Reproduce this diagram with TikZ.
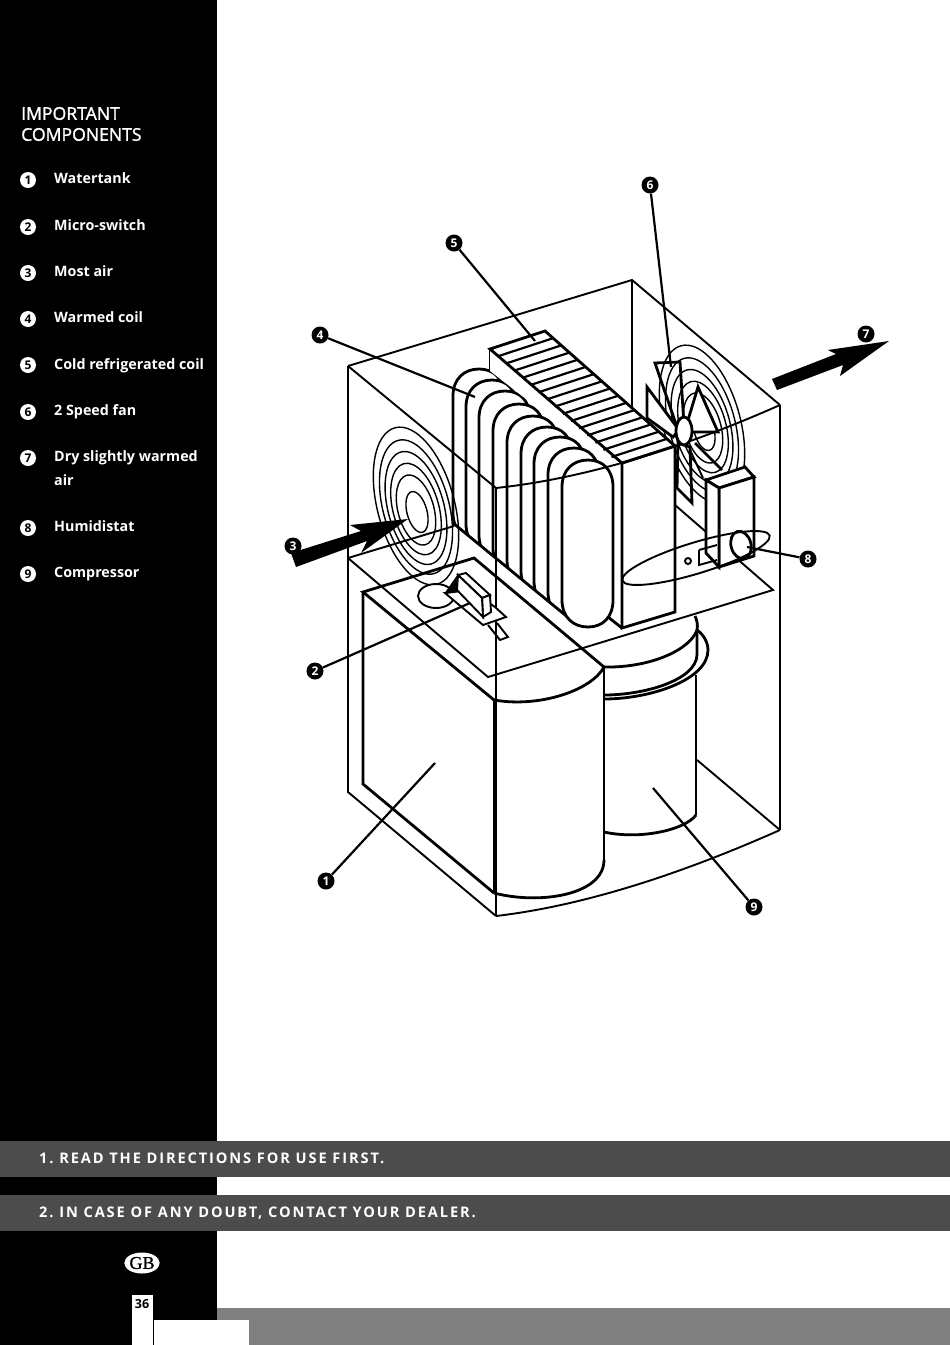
\documentclass[tikz,border=0pt]{standalone}
\usepackage{fontspec}
\usetikzlibrary{shapes.geometric}
\setmainfont{Open Sans}
\newfontfamily\barfont[LetterSpace=13]{Open Sans}
\newfontfamily\titlefont[FakeBold=1.5]{Open Sans}
\newfontfamily\badgefont[FakeBold=1]{Liberation Serif}
\frenchspacing

\tikzset{
    wallline/.style     = {line width = 1.9pt,line join = miter},
    heavyline/.style    = {line width = 2.8pt,line join = miter},
    ringline/.style     = {line width = 1.4pt},
    hatchline/.style    = {line width = 2.2pt},
    tubeline/.style     = {line width = 2.8pt,fill = white},
    faceline/.style     = {line width = 2.8pt,fill = white,line join = miter},
    leaderline/.style   = {line width = 2.2pt},
    flowarrow/.style    = {fill = black,draw = none},
    listmark/.style     = {circle,fill = white,text = black,minimum size = 16pt,inner sep = 0,font = \bfseries\fontsize{12}{12}\selectfont},
    callmark/.style     = {circle,fill = black,text = white,minimum size = 17pt,inner sep = 0,font = \bfseries\fontsize{12}{12}\selectfont},
    listtext/.style     = {anchor = base west,inner sep = 0,text = white,font = \bfseries\fontsize{14.3}{24}\selectfont,align = left},
    bartext/.style      = {anchor = base west,inner sep = 0,text = white,font = \barfont\bfseries\fontsize{14.6}{14}\selectfont}
}

\newcommand{\coiltube}[3]{
    \draw [tubeline,xshift = #1,yshift = #2] (562,487) .. controls (562,470) and (573,460) .. (588,460) .. controls (603,460) and (613,470) .. (613,487) -- (613,600+#3) .. controls (613,617+#3) and (603,627+#3) .. (588,627+#3) .. controls (573,627+#3) and (562,617+#3) .. (562,600+#3) -- cycle;
}

\begin{document}
\begin{tikzpicture}[x = 1pt,y = -1pt]
    \useasboundingbox (0,0) rectangle (950,1345);
    \fill [white]           (0,0) rectangle (950,1345);

    % page
    \fill [black]           (0,0) rectangle (217,1345);
    \fill [black!70]        (0,1141) rectangle (950,1177);
    \fill [black!70]        (0,1195) rectangle (950,1231);
    \fill [black!50]        (217,1308) rectangle (950,1345);
    \fill [white]           (132,1295) rectangle (153,1345);
    \fill [white]           (154,1320) rectangle (249,1345);

    \node [anchor = west,inner sep = 0,text = white,font = \titlefont\fontsize{17.6}{21}\selectfont,align = left] (title) at (21,124) {IMPORTANT\\COMPONENTS};

    \node [listmark] (list1) at (28,180) {1};
    \node [listmark] (list2) at (28,227) {2};
    \node [listmark] (list3) at (28,273) {3};
    \node [listmark] (list4) at (28,319) {4};
    \node [listmark] (list5) at (28,365) {5};
    \node [listmark] (list6) at (28,412) {6};
    \node [listmark] (list7) at (28,458) {7};
    \node [listmark] (list8) at (28,528) {8};
    \node [listmark] (list9) at (28,574) {9};

    \node [listtext] (item1) at (54,183) {Watertank};
    \node [listtext] (item2) at (54,230) {Micro-switch};
    \node [listtext] (item3) at (54,276) {Most air};
    \node [listtext] (item4) at (54,322) {Warmed coil};
    \node [listtext] (item5) at (54,369) {Cold refrigerated coil};
    \node [listtext] (item6) at (54,415) {2 Speed fan};
    \node [listtext,anchor = west] (item7) at (54,468) {Dry slightly warmed\\air};
    \node [listtext] (item8) at (54,531) {Humidistat};
    \node [listtext] (item9) at (54,577) {Compressor};

    \node [bartext] (rule1) at (39,1163) {1. READ THE DIRECTIONS FOR USE FIRST.};
    \node [bartext] (rule2) at (39,1217) {2. IN CASE OF ANY DOUBT, CONTACT YOUR DEALER.};

    \node [ellipse,fill = white,minimum width = 35pt,minimum height = 21pt,inner sep = 0,font = \badgefont\fontsize{18}{18}\selectfont] (badge) at (142,1263) {GB};
    \node [inner sep = 0,font = \bfseries\fontsize{12.5}{12}\selectfont] (pagenum) at (142,1304) {36};

    % rings on the far wall
    \draw [ringline,shift = {(704,430)},rotate = 15] (0,0) ellipse (10pt and 21pt);
    \draw [ringline,shift = {(703,428)},rotate = 15] (0,0) ellipse (18pt and 36pt);
    \draw [ringline,shift = {(703,427)},rotate = 15] (0,0) ellipse (23pt and 47pt);
    \draw [ringline,shift = {(702,426)},rotate = 15] (0,0) ellipse (28pt and 58pt);
    \draw [ringline,shift = {(702,425)},rotate = 15] (0,0) ellipse (33pt and 69pt);
    \draw [ringline,shift = {(702,424)},rotate = 15] (0,0) ellipse (38.5pt and 81pt);

    % casing, back edges
    \draw [wallline] (348,366) -- (632,280) -- (780,405);
    \draw [wallline] (632,280) -- (632,430);
    \draw [wallline] (348,558) -- (454,526);
    \draw [wallline] (348,558) -- (488,677) -- (773,590) -- (675,505);
    \draw [wallline] (697,760) -- (780,830);
    \draw [wallline] (348,366) -- (348,792) -- (496,916);
    \draw [wallline] (780,405) -- (780,830);
    \draw [wallline] (496,916) .. controls (590,905) and (690,870) .. (780,830);

    % water tank
    \draw [heavyline] (494,700) -- (363,592) -- (474,558) -- (604,667);
    \draw [heavyline] (363,592) -- (363,784) -- (494,893);
    \draw [heavyline] (494,700) -- (494,893);
    \draw [heavyline] (604,667) -- (604,860);
    \draw [heavyline] (494,700) .. controls (540,708) and (592,690) .. (604,667);
    \draw [heavyline] (494,893) .. controls (540,905) and (604,895) .. (604,860);

    % compressor
    \draw [heavyline] (604,667) .. controls (650,668) and (690,650) .. (697,630) .. controls (698,625) and (697,620) .. (695,616);
    \draw [heavyline] (604,695) .. controls (645,695) and (696,680) .. (697,655) -- (697,630);
    \draw [heavyline] (604,699) .. controls (650,699) and (708,680) .. (708,650) .. controls (708,642) and (703,634) .. (697,630);
    \draw [heavyline] (696,675) -- (696,815);
    \draw [heavyline] (604,832) .. controls (640,840) and (685,830) .. (696,815);

    % coil
    \draw [heavyline] (490,349) -- (490,375);
    \begin{scope}
        \clip (440,300) -- (640,300) -- (640,677) -- (625,665) -- (445,517) -- (440,513) -- cycle;
        \coiltube{-109pt}{91pt}{4}
        \coiltube{-96pt}{80pt}{4}
        \coiltube{-83pt}{69pt}{4}
        \coiltube{-69pt}{56pt}{4}
        \coiltube{-55pt}{44pt}{4}
        \coiltube{-41pt}{33pt}{4}
        \coiltube{-28pt}{23pt}{4}
        \coiltube{-14pt}{12pt}{4}
    \end{scope}
    \draw [heavyline] (453,523) -- (570,619);
    \fill [white] (490,350) -- (622,463) -- (622,472) -- (613,467) -- (490,371) -- cycle;
    \coiltube{0pt}{0pt}{0}

    % casing, front edges
    \draw [wallline] (348,366) -- (496,488);
    \draw [wallline] (496,488) -- (496,916);
    \draw [wallline] (496,488) .. controls (590,478) and (690,445) .. (780,405);

    % block with the fins
    \draw [faceline] (622,463) -- (675,446) -- (675,612) -- (622,628) -- cycle;
    \draw [faceline] (490,349) -- (545,331) -- (675,446) -- (622,463) -- cycle;
    \draw [heavyline] (608,617) -- (622,628);
    \draw [hatchline,xshift = 8.1pt,yshift = -7.2pt]        (490,349) -- (545,331);
    \draw [hatchline,xshift = 16.2pt,yshift = -14.4pt]      (490,349) -- (545,331);
    \draw [hatchline,xshift = 24.3pt,yshift = -21.6pt]      (490,349) -- (545,331);
    \draw [hatchline,xshift = 32.4pt,yshift = -28.8pt]      (490,349) -- (545,331);
    \draw [hatchline,xshift = 40.5pt,yshift = -36pt]        (490,349) -- (545,331);
    \draw [hatchline,xshift = 48.6pt,yshift = -43.2pt]      (490,349) -- (545,331);
    \draw [hatchline,xshift = 56.7pt,yshift = -50.4pt]      (490,349) -- (545,331);
    \draw [hatchline,xshift = 64.8pt,yshift = -57.6pt]      (490,349) -- (545,331);
    \draw [hatchline,xshift = 72.9pt,yshift = -64.8pt]      (490,349) -- (545,331);
    \draw [hatchline,xshift = 81pt,yshift = -72pt]          (490,349) -- (545,331);
    \draw [hatchline,xshift = 89.1pt,yshift = -79.2pt]      (490,349) -- (545,331);
    \draw [hatchline,xshift = 97.2pt,yshift = -86.4pt]      (490,349) -- (545,331);
    \draw [hatchline,xshift = 105.3pt,yshift = -93.6pt]     (490,349) -- (545,331);
    \draw [hatchline,xshift = 113.4pt,yshift = -100.8pt]    (490,349) -- (545,331);
    \draw [hatchline,xshift = 121.5pt,yshift = -108pt]      (490,349) -- (545,331);

    % fan
    \draw [heavyline] (655,363) -- (680,362) -- (684,425) -- (677,427) -- cycle;
    \draw [heavyline,fill = white] (647,387) -- (679,430) -- (673,437) -- (647,418) -- cycle;
    \draw [heavyline,fill = white] (698,387) -- (718,432) -- (692,432) -- (688,420) -- cycle;
    \draw [heavyline] (692,503) -- (677,488) -- (678,443) -- (690,447) -- cycle;
    \draw [heavyline] (695,443) -- (722,470);
    \draw [wallline] (690,450) -- (703,478);
    \draw [heavyline,fill = white] (684,431) ellipse (8pt and 14pt);

    % humidistat
    \draw [faceline] (706,480) -- (745,467) -- (754,477) -- (719,488) -- cycle;
    \draw [faceline] (719,488) -- (754,477) -- (754,556) -- (719,567) -- cycle;
    \draw [faceline] (706,480) -- (719,488) -- (719,567) -- (706,553) -- cycle;
    \draw [wallline] (699,550) -- (717,545);
    \draw [wallline] (699,550) -- (699,565) -- (717,560);
    \draw [wallline,shift = {(696,558)},rotate = 17] (0,0) ellipse (77pt and 15.5pt);
    \draw [wallline] (688,561) circle (3pt);
    \draw [heavyline,shift = {(741,545)},rotate = 15] (0,0) ellipse (10pt and 14pt);

    % rings on the near wall
    \draw [ringline,shift = {(417,512)},rotate = 15] (0,0) ellipse (10pt and 21pt);
    \draw [ringline,shift = {(416,510)},rotate = 15] (0,0) ellipse (18pt and 36pt);
    \draw [ringline,shift = {(416,509)},rotate = 15] (0,0) ellipse (23pt and 47pt);
    \draw [ringline,shift = {(416,508)},rotate = 15] (0,0) ellipse (28pt and 58pt);
    \draw [ringline,shift = {(416,507)},rotate = 15] (0,0) ellipse (33pt and 69pt);
    \draw [ringline,shift = {(416,506)},rotate = 15] (0,0) ellipse (38.5pt and 81pt);

    % micro-switch
    \draw [wallline,fill = white] (436,596) ellipse (18pt and 12pt);
    \draw [wallline,fill = white] (445,593) -- (483,625) -- (506,617) -- (495,607) -- (470,590) -- cycle;
    \draw [wallline] (488,625) -- (500,640) -- (508,637) -- (497,623);
    \fill [black] (458,574) -- (457,592) -- (444,594) -- cycle;
    \draw [wallline,fill = white] (458,575) -- (466,573) -- (490,595) -- (482,598) -- cycle;
    \draw [wallline,fill = white] (482,598) -- (490,595) -- (491,612) -- (483,617) -- cycle;
    \draw [wallline,fill = white] (458,575) -- (482,598) -- (483,617) -- (457,590) -- cycle;

    % air flow
    \fill [flowarrow] (291,553) -- (361,531) -- (350,525) -- (408,519) -- (361,553) -- (367,541) -- (296,567) -- cycle;
    \fill [flowarrow] (772,379) -- (836,354) -- (828,350) -- (889,341) -- (840,376) -- (843,365) -- (777,390) -- cycle;

    % numbers and their leaders
    \node [callmark] (mark1) at (326,881) {1};
    \node [callmark] (mark2) at (315,671) {2};
    \node [callmark] (mark3) at (293,546) {3};
    \node [callmark] (mark4) at (320,335) {4};
    \node [callmark] (mark5) at (454,243) {5};
    \node [callmark] (mark6) at (650,185) {6};
    \node [callmark] (mark7) at (866,334) {7};
    \node [callmark] (mark8) at (808,559) {8};
    \node [callmark] (mark9) at (754,907) {9};

    \coordinate (tank)      at (435,763);
    \coordinate (switch)    at (470,603);
    \coordinate (warmcoil)  at (475,397);
    \coordinate (coldcoil)  at (535,341);
    \coordinate (fan)       at (671,367);
    \coordinate (sensor)    at (747,547);
    \coordinate (compr)     at (653,788);

    \draw [leaderline] (mark1) -- (tank);
    \draw [leaderline] (mark2) -- (switch);
    \draw [leaderline] (mark4) -- (warmcoil);
    \draw [leaderline] (mark5) -- (coldcoil);
    \draw [leaderline] (mark6) -- (fan);
    \draw [leaderline] (mark8) -- (sensor);
    \draw [leaderline] (mark9) -- (compr);
\end{tikzpicture}
\end{document}
